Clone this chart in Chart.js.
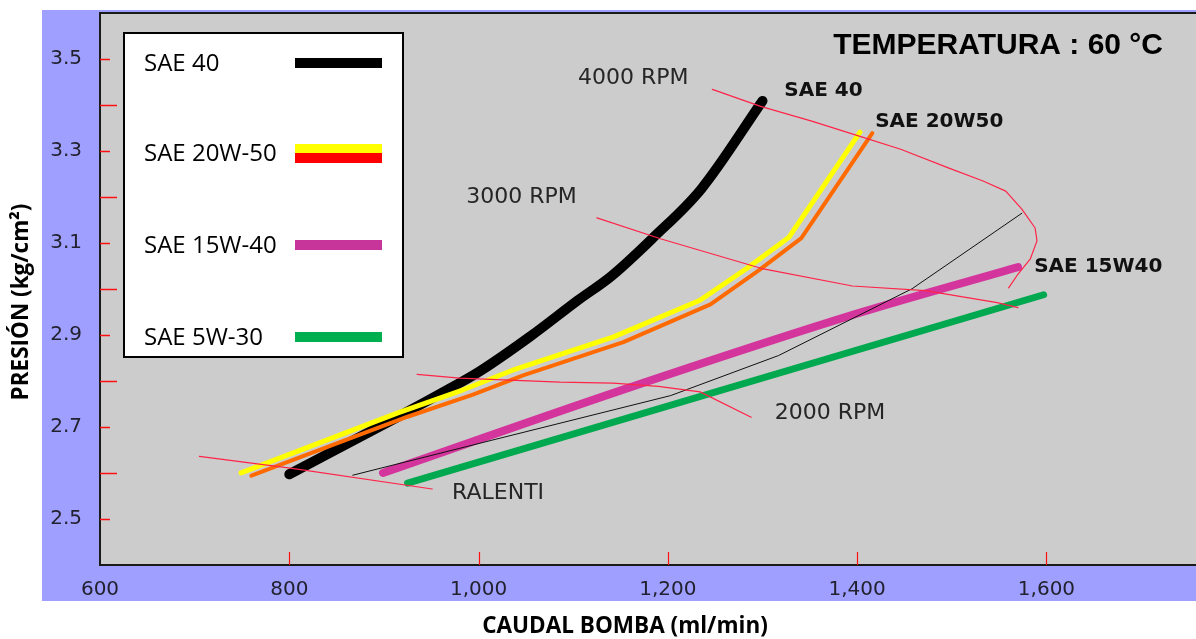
<!DOCTYPE html>
<html><head><meta charset="utf-8">
<script src="https://cdn.jsdelivr.net/npm/chart.js@4.4.1/dist/chart.umd.min.js"></script>
<style>html,body{margin:0;padding:0;background:#fff;overflow:hidden}#wrap{position:relative;width:1196px;height:639px}</style>
</head><body><div id="wrap"><canvas id="c" width="1196" height="639"></canvas></div>
<script>
// ---------- data ----------
const xTicks = [600, 800, 1000, 1200, 1400, 1600];
const yTicks = [2.5, 2.7, 2.9, 3.1, 3.3, 3.5];
const yMinorTicks = [2.6, 2.8, 3.0, 3.2, 3.4];

const sae40X = [800, 915, 965, 1000, 1055, 1105, 1140, 1185, 1235, 1300];
const sae40Y = [2.597, 2.722, 2.778, 2.819, 2.897, 2.975, 3.027, 3.112, 3.216, 3.408];

const sae20w50aX = [749, 914, 983, 1036, 1142, 1234, 1284, 1328, 1403];
const sae20w50aY = [2.600, 2.730, 2.780, 2.823, 2.895, 2.975, 3.045, 3.112, 3.340];

const sae20w50bX = [760, 925, 994, 1047, 1153, 1245, 1296, 1341, 1416];
const sae20w50bY = [2.594, 2.722, 2.770, 2.812, 2.884, 2.966, 3.040, 3.110, 3.338];

const sae15w40X = [899, 1156, 1403, 1570];
const sae15w40Y = [2.600, 2.783, 2.948, 3.047];

const sae5w30X = [925, 1597];
const sae5w30Y = [2.578, 2.987];

const thinX = [867, 1014, 1203, 1317, 1458, 1574];
const thinY = [2.595, 2.671, 2.768, 2.855, 3.000, 3.164];

const rpm4000X = [1247, 1298, 1352, 1403, 1446, 1497, 1533, 1557, 1574, 1588, 1590, 1583, 1570, 1560];
const rpm4000Y = [3.433, 3.396, 3.364, 3.331, 3.303, 3.262, 3.234, 3.212, 3.173, 3.132, 3.104, 3.065, 3.032, 3.002];

const rpm3000X = [1125, 1193, 1301, 1395, 1472, 1548, 1570];
const rpm3000Y = [3.154, 3.108, 3.043, 3.006, 2.996, 2.970, 2.959];

const rpm2000X = [935, 980, 1086, 1142, 1190, 1234, 1288];
const rpm2000Y = [2.814, 2.806, 2.797, 2.795, 2.788, 2.776, 2.721];

const ralentiX = [705, 803, 951];
const ralentiY = [2.636, 2.610, 2.565];

const legendLabels = ['SAE 40', 'SAE 20W-50', 'SAE 15W-40', 'SAE 5W-30'];
const noteTexts = ['4000 RPM', '3000 RPM', '2000 RPM', 'RALENTI', 'SAE 40', 'SAE 20W50', 'SAE 15W40'];
const noteX = [1105, 987, 1313, 972, 1323, 1419, 1587];
const noteY = [3.458, 3.199, 2.729, 2.555, 3.430, 3.363, 3.047];
const chartTitle = 'TEMPERATURA : 60 °C';
const xTitle = 'CAUDAL BOMBA (ml/min)';
const yTitle = 'PRESIÓN (kg/cm²)';

// ---------- styles ----------
const pts = (xs, ys) => xs.map((x, i) => ({x: x, y: ys[i]}));
const RED = '#FF2448';
function ds(label, xs, ys, color, width, order, smooth) {
  return {label, data: pts(xs, ys), borderColor: color, backgroundColor: color,
    borderWidth: width, order, pointRadius: 0, fill: false, tension: smooth ? 0.4 : 0,
    cubicInterpolationMode: smooth ? 'monotone' : 'default',
    borderCapStyle: 'round', borderJoinStyle: 'round'};
}
const datasets = [
  ds('4000 RPM', rpm4000X, rpm4000Y, RED, 1.2, 0),
  ds('3000 RPM', rpm3000X, rpm3000Y, RED, 1.2, 0),
  ds('2000 RPM', rpm2000X, rpm2000Y, RED, 1.2, 0),
  ds('RALENTI', ralentiX, ralentiY, RED, 1.2, 0),
  ds('ref', thinX, thinY, '#111111', 1, 1),
  ds('SAE 20W-50 b', sae20w50bX, sae20w50bY, '#FF6A00', 4, 2),
  ds('SAE 20W-50 a', sae20w50aX, sae20w50aY, '#FFFF00', 5, 3),
  ds('SAE 40', sae40X, sae40Y, '#000000', 10, 4, true),
  ds('SAE 15W-40', sae15w40X, sae15w40Y, '#D4359D', 8, 5, true),
  ds('SAE 5W-30', sae5w30X, sae5w30Y, '#00A94F', 7, 6)
];
const legendSwatches = [['#000000'], ['#FFFF00', '#FF0000'], ['#C8359A'], ['#00B050']];

const decor = {
  id: 'decor',
  beforeDraw(chart) {
    const ctx = chart.ctx, a = chart.chartArea;
    ctx.save();
    ctx.fillStyle = '#ffffff'; ctx.fillRect(0, 0, chart.width, chart.height);
    ctx.fillStyle = '#9F9FFF'; ctx.fillRect(42, 10, chart.width - 42, 591);
    ctx.fillStyle = '#CCCCCC'; ctx.fillRect(a.left, a.top, a.right - a.left, a.bottom - a.top);
    ctx.restore();
  },
  beforeDatasetsDraw(chart) {
    const ctx = chart.ctx, a = chart.chartArea, xs = chart.scales.x, ys = chart.scales.y;
    ctx.save();
    ctx.strokeStyle = '#FF1010'; ctx.lineWidth = 1.5;
    yTicks.forEach(v => { const p = Math.round(ys.getPixelForValue(v)) + 0.5;
      ctx.beginPath(); ctx.moveTo(a.left, p); ctx.lineTo(a.left + 10, p); ctx.stroke(); });
    yMinorTicks.forEach(v => { const p = Math.round(ys.getPixelForValue(v)) + 0.5;
      ctx.beginPath(); ctx.moveTo(a.left, p); ctx.lineTo(a.left + 17, p); ctx.stroke(); });
    ctx.lineWidth = 1.2;
    xTicks.slice(1).forEach(v => { const p = Math.round(xs.getPixelForValue(v)) + 0.5;
      ctx.beginPath(); ctx.moveTo(p, a.bottom); ctx.lineTo(p, a.bottom - 13); ctx.stroke(); });
    ctx.strokeStyle = '#1a1a1a'; ctx.lineWidth = 2;
    ctx.beginPath(); ctx.moveTo(a.left - 1, a.top + 0.5); ctx.lineTo(a.right, a.top + 0.5); ctx.stroke();
    ctx.restore();
  },
  afterDatasetsDraw(chart) {
    const ctx = chart.ctx, xs = chart.scales.x, ys = chart.scales.y;
    ctx.save();
    ctx.textBaseline = 'middle'; ctx.textAlign = 'left';
    noteTexts.forEach((t, i) => {
      const bold = t.startsWith('SAE');
      ctx.font = bold ? 'bold 20px "DejaVu Sans"' : '22px "DejaVu Sans"';
      ctx.fillStyle = bold ? '#111111' : '#262626';
      ctx.fillText(t, xs.getPixelForValue(noteX[i]), ys.getPixelForValue(noteY[i]));
    });
    ctx.font = 'bold 30px "Liberation Sans"'; ctx.fillStyle = '#000';
    ctx.textAlign = 'right';
    ctx.fillText(chartTitle, 1163, 46);
    ctx.fillStyle = '#ffffff'; ctx.fillRect(124, 33, 279, 324);
    ctx.strokeStyle = '#000'; ctx.lineWidth = 2; ctx.strokeRect(124, 33, 279, 324);
    const rows = [63, 153, 245, 337];
    ctx.font = '24px "Open Sans"'; ctx.textAlign = 'left'; ctx.fillStyle = '#000';
    legendLabels.forEach((t, i) => {
      ctx.fillText(t, 144, rows[i] + 1);
      const sw = legendSwatches[i];
      if (sw.length === 1) { ctx.fillStyle = sw[0]; ctx.fillRect(295, rows[i] - 5, 87, 10); }
      else { ctx.fillStyle = sw[0]; ctx.fillRect(295, rows[i] - 9, 87, 9); ctx.fillStyle = sw[1]; ctx.fillRect(295, rows[i], 87, 10); }
      ctx.fillStyle = '#000';
    });
    ctx.font = 'bold 22.5px "Open Sans"'; ctx.textAlign = 'center'; ctx.fillStyle = '#000';
    ctx.fillText(xTitle, 625, 627);
    ctx.translate(22, 302); ctx.rotate(-Math.PI / 2);
    ctx.fillText(yTitle, 0, 0);
    ctx.restore();
  }
};

const noPad = s => { s.paddingTop = 0; s.paddingBottom = 0; s.paddingLeft = 0; s.paddingRight = 0; };

new Chart(document.getElementById('c'), {
  type: 'line',
  data: {datasets},
  plugins: [decor],
  options: {
    responsive: false, animation: false, devicePixelRatio: 1,
    layout: {padding: {left: 0, right: 0, top: 12.5, bottom: 0}},
    plugins: {legend: {display: false}, tooltip: {enabled: false}},
    scales: {
      x: {type: 'linear', min: 600, max: 1758,
        afterBuildTicks: s => { s.ticks = xTicks.map(v => ({value: v})); },
        afterFit: s => { s.height = 74; noPad(s); },
        grid: {display: false, drawTicks: false},
        border: {display: true, color: '#1a1a1a', width: 2},
        ticks: {padding: 13, color: '#22222f', font: {family: 'DejaVu Sans', size: 20},
          maxRotation: 0, autoSkip: false, callback: v => v.toLocaleString('en-US')}
      },
      y: {type: 'linear', min: 2.4, max: 3.6,
        afterBuildTicks: s => { s.ticks = yTicks.map(v => ({value: v})); },
        afterFit: s => { s.width = 100; noPad(s); },
        grid: {display: false, drawTicks: false},
        border: {display: true, color: '#1a1a1a', width: 2},
        ticks: {padding: 18, color: '#22222f', font: {family: 'DejaVu Sans', size: 20},
          autoSkip: false, callback: v => v.toFixed(1)}
      }
    }
  }
});
</script></body></html>
